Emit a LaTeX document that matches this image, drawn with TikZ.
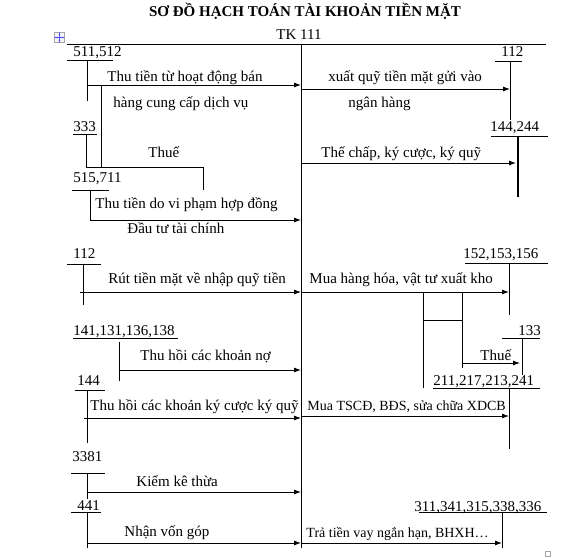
\documentclass[tikz,border=0pt]{standalone}
\usepackage{fontspec}
\setmainfont{Liberation Serif}
\usetikzlibrary{arrows.meta}
\begin{document}
\begin{tikzpicture}[x=1pt,y=-1pt,line width=0.9pt,
  txt/.style={anchor=base west,inner sep=0pt,font=\fontsize{15}{17}\selectfont},
  txts/.style={txt,font=\fontsize{14}{16}\selectfont},
  arr/.style={-{Latex[length=7pt,width=5pt]}},
  handle/.style={draw=gray!70,line width=0.5pt}]
\useasboundingbox (0,0) rectangle (582,559);
% title
\node[anchor=base,inner sep=0pt,font=\bfseries\fontsize{15}{17}\selectfont] (title) at (305,17) {SƠ ĐỒ HẠCH TOÁN TÀI KHOẢN TIỀN MẶT};
\node[txt,anchor=base] (tk) at (299,40) {TK 111};
% table handles
\node[handle,fill=gray!8,minimum size=10pt,inner sep=0pt] (mv) at (59.5,37.5) {};
\draw[blue!70,line width=0.5pt,{Stealth[length=2pt]}-{Stealth[length=2pt]}] (mv.west) -- (mv.east);
\draw[blue!70,line width=0.5pt,{Stealth[length=2pt]}-{Stealth[length=2pt]}] (mv.north) -- (mv.south);
\node[handle,minimum size=5pt,inner sep=0pt] (rs) at (547.5,553.5) {};
% T account
\coordinate (TL) at (67,44); \coordinate (TR) at (546,44);
\coordinate (T) at (301,44); \coordinate (B) at (301,548);
\draw (TL) -- (TR);
\draw (T) -- (B);

% ---------- left side ----------
% 511,512
\node[txt] (n511) at (73,57) {511,512};
\coordinate (u511a) at (67,60); \coordinate (u511b) at (113,60);
\draw (u511a) -- (u511b);
\coordinate (v511a) at (87,60); \coordinate (v511b) at (87,101); \coordinate (a511) at (87,85);
\draw (v511a) -- (v511b);
\draw[arr] (a511) -- (a511 -| T);
\node[txt] (t511a) at (107,82) {Thu tiền từ hoạt động bán};
\node[txt] (t511b) at (113,108) {hàng cung cấp dịch vụ};
\coordinate (k1) at (101,85); \coordinate (k2) at (101,167);
\draw (k1) -- (k2);
% 333
\node[txt] (n333) at (73,132) {333};
\coordinate (u333a) at (73,134); \coordinate (u333b) at (97,134);
\draw (u333a) -- (u333b);
\coordinate (v333a) at (86,134); \coordinate (v333b) at (86,167);
\coordinate (v333c) at (203,167); \coordinate (v333d) at (203,190);
\draw (v333a) -- (v333b) -- (v333c) -- (v333d);
\node[txt] (t333) at (148,158) {Thuế};
% 515,711
\node[txt] (n515) at (73,183) {515,711};
\coordinate (u515a) at (72,190); \coordinate (u515b) at (109,190);
\draw (u515a) -- (u515b);
\coordinate (v515a) at (90,190); \coordinate (v515b) at (90,220);
\draw[arr] (v515a) -- (v515b) -- (v515b -| T);
\node[txt] (t515a) at (95,209) {Thu tiền do vi phạm hợp đồng};
\node[txt] (t515b) at (127,234) {Đầu tư tài chính};
% 112 left
\node[txt] (n112l) at (73,259) {112};
\coordinate (u112a) at (67,264); \coordinate (u112b) at (101,264);
\draw (u112a) -- (u112b);
\coordinate (v112a) at (83,264); \coordinate (v112b) at (83,305); \coordinate (a112) at (80,292);
\draw (v112a) -- (v112b);
\draw[arr] (a112) -- (a112 -| T);
\node[txt] (t112l) at (108,284) {Rút tiền mặt về nhập quỹ tiền};
% 141,131,136,138
\node[txt] (n141) at (73,335) {141,131,136,138};
\coordinate (u141a) at (73,338); \coordinate (u141b) at (178,338);
\draw (u141a) -- (u141b);
\coordinate (v141a) at (119,342); \coordinate (v141b) at (119,381); \coordinate (a141) at (119,370);
\draw (v141a) -- (v141b);
\draw[arr] (a141) -- (a141 -| T);
\node[txt] (t141) at (140,361) {Thu hồi các khoản nợ};
% 144 left
\node[txt] (n144) at (77,385) {144};
\coordinate (u144a) at (75,390); \coordinate (u144b) at (105,390);
\draw (u144a) -- (u144b);
\coordinate (v144a) at (87,390); \coordinate (v144b) at (87,443); \coordinate (a144) at (84,418);
\draw (v144a) -- (v144b);
\draw[arr] (a144) -- (a144 -| T);
\node[txt] (t144) at (90,410) {Thu hồi các khoản ký cược ký quỹ};
% 3381
\node[txt] (n3381) at (72,461) {3381};
\coordinate (u3381a) at (71,473); \coordinate (u3381b) at (105,473);
\draw (u3381a) -- (u3381b);
\coordinate (v3381a) at (87,473); \coordinate (v3381b) at (87,499); \coordinate (a3381) at (87,492);
\draw (v3381a) -- (v3381b);
\draw[arr] (a3381) -- (a3381 -| T);
\node[txt] (t3381) at (136,486) {Kiểm kê thừa};
% 441
\node[txt] (n441) at (77,510) {441};
\coordinate (u441a) at (71,512); \coordinate (u441b) at (101,512);
\draw (u441a) -- (u441b);
\coordinate (v441a) at (87,512); \coordinate (v441b) at (87,548); \coordinate (a441) at (87,543);
\draw (v441a) -- (v441b);
\draw[arr] (a441) -- (a441 -| T);
\node[txt] (t441) at (124,536) {Nhận vốn góp};

% ---------- right side ----------
% 112
\node[txt] (n112r) at (501,57) {112};
\coordinate (w112a) at (495,61); \coordinate (w112b) at (522,61);
\draw (w112a) -- (w112b);
\coordinate (x112a) at (510,61); \coordinate (x112b) at (510,120); \coordinate (b112) at (510,89);
\draw (x112a) -- (x112b);
\draw[arr] (b112 -| T) -- (b112);
\node[txt] (t112ra) at (328,82) {xuất quỹ tiền mặt gửi vào};
\node[txt] (t112rb) at (348,108) {ngân hàng};
% 144,244
\node[txt] (n144r) at (490,132) {144,244};
\coordinate (w144a) at (491,136); \coordinate (w144b) at (548,136);
\draw (w144a) -- (w144b);
\coordinate (x144a) at (518,136); \coordinate (x144b) at (518,197); \coordinate (b144) at (516,163);
\draw[line width=1.2pt] (x144a) -- (x144b);
\draw[arr] (b144 -| T) -- (b144);
\node[txt] (t144r) at (321,158) {Thế chấp, ký cược, ký quỹ};
% 152,153,156
\node[txt] (n152) at (463,259) {152,153,156};
\coordinate (w152a) at (465,263); \coordinate (w152b) at (548,263);
\draw (w152a) -- (w152b);
\coordinate (x152a) at (509,263); \coordinate (x152b) at (509,315); \coordinate (b152) at (509,292);
\draw (x152a) -- (x152b);
\draw[arr] (b152 -| T) -- (b152);
\node[txt] (t152) at (309,284) {Mua hàng hóa, vật tư xuất kho};
% branch
\coordinate (br1a) at (423,292); \coordinate (br1b) at (423,388);
\coordinate (br2a) at (462,292); \coordinate (br2b) at (462,368);
\coordinate (br1c) at (423,320); \coordinate (br2c) at (462,320);
\coordinate (br2d) at (462,363); \coordinate (b133) at (520,363);
\draw (br1a) -- (br1b);
\draw (br2a) -- (br2b);
\draw (br1c) -- (br2c);
\draw[arr] (br2d) -- (b133);
% 133
\node[txt] (n133) at (518,335) {133};
\coordinate (w133a) at (502,338); \coordinate (w133b) at (540,338);
\draw (w133a) -- (w133b);
\coordinate (x133a) at (522,338); \coordinate (x133b) at (522,375);
\draw (x133a) -- (x133b);
\node[txt] (t133) at (480,360) {Thuế};
% 211,217,213,241
\node[txt] (n211) at (433,385) {211,217,213,241};
\coordinate (w211a) at (433,388); \coordinate (w211b) at (540,388);
\draw (w211a) -- (w211b);
\coordinate (x211a) at (509,388); \coordinate (x211b) at (509,449); \coordinate (b211) at (509,416);
\draw (x211a) -- (x211b);
\draw[arr] (b211 -| T) -- (b211);
\node[txts] (t211) at (307,410) {Mua TSCĐ, BĐS, sửa chữa XDCB};
% 311,...
\node[txt] (n311) at (414,511) {311,341,315,338,336};
\coordinate (w311a) at (419,512); \coordinate (w311b) at (547,512);
\draw (w311a) -- (w311b);
\coordinate (x311a) at (502,512); \coordinate (x311b) at (502,548); \coordinate (b311) at (502,543);
\draw (x311a) -- (x311b);
\draw[arr] (b311 -| T) -- (b311);
\node[txts] (t311) at (306,537) {Trả tiền vay ngắn hạn, BHXH…};
\end{tikzpicture}
\end{document}
